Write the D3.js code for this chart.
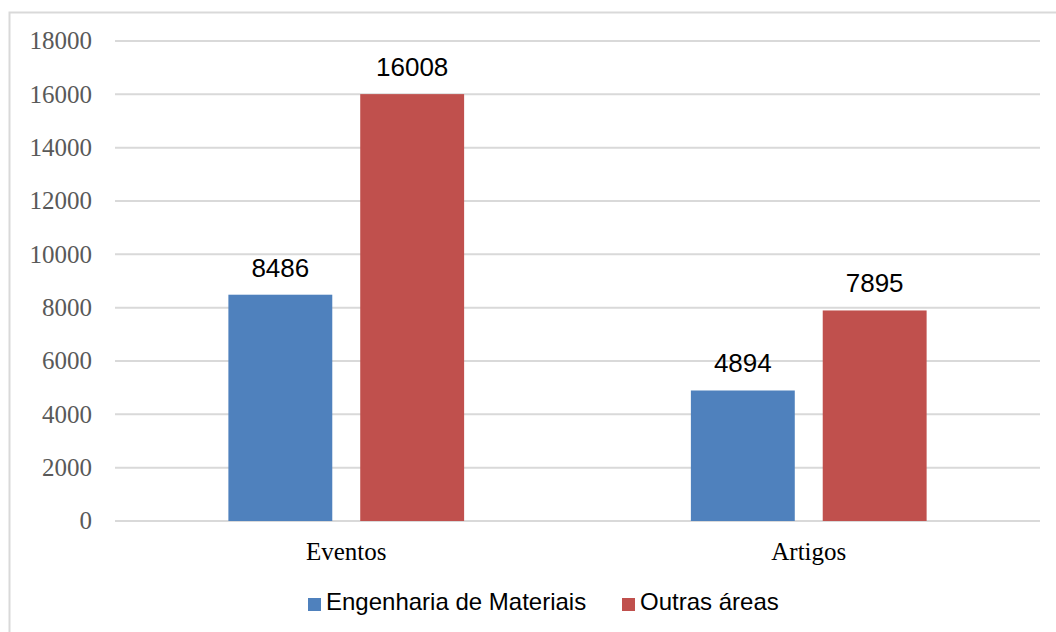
<!DOCTYPE html>
<html>
<head>
<meta charset="utf-8">
<script src="https://cdn.jsdelivr.net/npm/d3@7"></script>
<style>
  body { margin: 0; background: #fff; }
  svg { display: block; }
</style>
</head>
<body>
<svg width="1056" height="632"></svg>
<script>
// chart data
var categories = ["Eventos", "Artigos"];
var seriesNames = ["Engenharia de Materiais", "Outras áreas"];
var engenharia = [8486, 4894];
var outras = [16008, 7895];
var yTicks = [0, 2000, 4000, 6000, 8000, 10000, 12000, 14000, 16000, 18000];
var colors = ["#4F81BD", "#C0504D"];

var svg = d3.select("svg");

// outer chart border (cut off at right/bottom like the picture)
svg.append("rect")
    .attr("x", 9.5).attr("y", 12.5)
    .attr("width", 1100).attr("height", 700)
    .attr("fill", "none")
    .attr("stroke", "#d9d9d9")
    .attr("stroke-width", 2);

var plotL = 115, plotR = 1040, plotT = 41, plotB = 521;

var y = d3.scaleLinear().domain([0, 18000]).range([plotB, plotT]);
var x0 = d3.scaleBand().domain(categories).range([plotL, plotR]);
var x1 = d3.scaleBand().domain(seriesNames)
    .range([0, x0.bandwidth()])
    .paddingInner(0.212).paddingOuter(0.86);

// gridlines
svg.append("g").selectAll("line")
    .data(yTicks).enter().append("line")
    .attr("x1", plotL).attr("x2", plotR)
    .attr("y1", d => y(d)).attr("y2", d => y(d))
    .attr("stroke", "#d9d9d9")
    .attr("stroke-width", 2);

// y tick labels
svg.append("g").selectAll("text")
    .data(yTicks).enter().append("text")
    .attr("x", 92)
    .attr("y", d => y(d))
    .attr("dy", "0.33em")
    .attr("text-anchor", "end")
    .attr("font-family", "'Liberation Serif', serif")
    .attr("font-size", 25)
    .attr("fill", "#595959")
    .text(d => d);

var rows = categories.map((c, i) => ({cat: c, vals: [engenharia[i], outras[i]]}));

var groups = svg.append("g").selectAll("g")
    .data(rows).enter().append("g")
    .attr("transform", d => "translate(" + x0(d.cat) + ",0)");

groups.selectAll("rect")
    .data(d => d.vals.map((v, j) => ({name: seriesNames[j], v: v, j: j})))
    .enter().append("rect")
    .attr("x", d => x1(d.name))
    .attr("y", d => y(d.v))
    .attr("width", x1.bandwidth())
    .attr("height", d => y(0) - y(d.v))
    .attr("fill", d => colors[d.j]);

groups.selectAll("text.lbl")
    .data(d => d.vals.map((v, j) => ({name: seriesNames[j], v: v, j: j})))
    .enter().append("text")
    .attr("class", "lbl")
    .attr("x", d => x1(d.name) + x1.bandwidth() / 2)
    .attr("y", d => y(d.v) - 18)
    .attr("text-anchor", "middle")
    .attr("font-family", "'Liberation Sans', Arial, sans-serif")
    .attr("font-size", 26)
    .attr("fill", "#000")
    .text(d => d.v);

// category labels
svg.append("g").selectAll("text")
    .data(categories).enter().append("text")
    .attr("x", d => x0(d) + x0.bandwidth() / 2)
    .attr("y", 560)
    .attr("text-anchor", "middle")
    .attr("font-family", "'Liberation Serif', serif")
    .attr("font-size", 25)
    .attr("fill", "#000")
    .text(d => d);

// legend
var legendX = [308, 622];
var legend = svg.append("g").selectAll("g")
    .data(seriesNames).enter().append("g")
    .attr("transform", (d, i) => "translate(" + legendX[i] + ",598)");
legend.append("rect")
    .attr("width", 13).attr("height", 13)
    .attr("fill", (d, i) => colors[i]);
legend.append("text")
    .attr("x", 18).attr("y", 12)
    .attr("font-family", "'Liberation Sans', Arial, sans-serif")
    .attr("font-size", 24)
    .attr("fill", "#000")
    .text(d => d);
</script>
</body>
</html>
